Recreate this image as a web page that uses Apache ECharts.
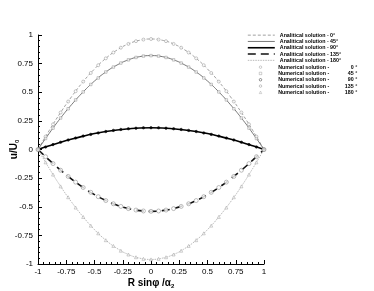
<!DOCTYPE html>
<html><head><meta charset="utf-8">
<script src="https://cdn.jsdelivr.net/npm/echarts@6/dist/echarts.min.js"></script>
<style>html,body{margin:0;padding:0;background:#fff}#c{width:374px;height:291px}</style>
</head><body><div id="c"></div>
<script>
const xTicks = ['-1','-0.75','-0.5','-0.25','0','0.25','0.5','0.75','1'];
const yTicks = ['-1','-0.75','-0.5','-0.25','0','0.25','0.5','0.75','1'];
const angles = ['0°','45°','90°','135°','180°'];
const numLabels = ['0 °','45 °','90 °','135 °','180 °'];

const xAna = [-1,-0.9,-0.8,-0.7,-0.6,-0.5,-0.4,-0.3,-0.2,-0.1,0,0.1,0.2,0.3,0.4,0.5,0.6,0.7,0.8,0.9,1];
const ana0   = [0,.167,.323,.465,.593,.703,.796,.869,.922,.954,.965,.954,.922,.869,.796,.703,.593,.465,.323,.167,0];
const ana45  = [0,.142,.275,.395,.503,.598,.677,.738,.783,.811,.820,.811,.783,.738,.677,.598,.503,.395,.275,.142,0];
const ana90  = [0,.033,.064,.092,.117,.139,.157,.171,.181,.188,.190,.188,.181,.171,.157,.139,.117,.092,.064,.033,0];
const ana135 = [0,-.093,-.181,-.260,-.332,-.394,-.446,-.486,-.516,-.534,-.540,-.534,-.516,-.486,-.446,-.394,-.332,-.260,-.181,-.093,0];
const ana180 = [0,-.166,-.322,-.463,-.589,-.700,-.792,-.864,-.917,-.949,-.960,-.949,-.917,-.864,-.792,-.700,-.589,-.463,-.322,-.166,0];

const xNum = [-1,-0.933,-0.867,-0.8,-0.733,-0.667,-0.6,-0.533,-0.467,-0.4,-0.333,-0.267,-0.2,-0.133,-0.067,0,0.067,0.133,0.2,0.267,0.333,0.4,0.467,0.533,0.6,0.667,0.733,0.8,0.867,0.933,1];
const num0   = [0,.113,.220,.323,.419,.509,.593,.668,.736,.796,.847,.889,.922,.946,.960,.965,.960,.946,.922,.889,.847,.796,.736,.668,.593,.509,.419,.323,.220,.113,0];
const num45  = [0,.096,.187,.275,.356,.433,.503,.568,.625,.677,.720,.755,.783,.804,.816,.820,.816,.804,.783,.755,.720,.677,.625,.568,.503,.433,.356,.275,.187,.096,0];
const num90  = [0,.022,.043,.064,.083,.100,.117,.132,.145,.157,.167,.175,.181,.186,.189,.190,.189,.186,.181,.175,.167,.157,.145,.132,.117,.100,.083,.064,.043,.022,0];
const num135 = [0,-.063,-.123,-.181,-.235,-.285,-.332,-.374,-.412,-.446,-.474,-.497,-.516,-.529,-.537,-.540,-.537,-.529,-.516,-.497,-.474,-.446,-.412,-.374,-.332,-.285,-.235,-.181,-.123,-.063,0];
const num180 = [0,-.112,-.219,-.322,-.417,-.507,-.589,-.665,-.732,-.792,-.842,-.884,-.917,-.941,-.955,-.960,-.955,-.941,-.917,-.884,-.842,-.792,-.732,-.665,-.589,-.507,-.417,-.322,-.219,-.112,0];

const anaData = [ana0, ana45, ana90, ana135, ana180];
const numData = [num0, num45, num90, num135, num180];
const zip = (xs, ys) => xs.map((x, i) => [x, ys[i]]);

const FONT = 'Liberation Sans';
const anaStyles = [
  {color:'#888', width:0.8, type:[3,2]},
  {color:'#555', width:0.8, type:'solid'},
  {color:'#000', width:1.6, type:'solid'},
  {color:'#111', width:1.6, type:[8,5]},
  {color:'#aaa', width:0.8, type:[1.5,1]}
];
const numStyles = [
  {symbol:'circle', size:3, color:'#fff', border:'#888'},
  {symbol:'rect', size:2.5, color:'#fff', border:'#888'},
  {symbol:'circle', size:2.5, color:'#000', border:'#000'},
  {symbol:'circle', size:4, color:'#fff', border:'#777'},
  {symbol:'triangle', size:3, color:'#fff', border:'#999'}
];

const anaNames = angles.map(a => 'Analitical solution - ' + a);
const numNames = numLabels.map(a => 'Numerical solution - ' + a);

const series = [];
anaData.forEach((d, i) => {
  series.push({
    name: anaNames[i], type: 'line', data: zip(xAna, d), smooth: true,
    symbol: 'none', showSymbol: false, lineStyle: anaStyles[i], itemStyle: {color: anaStyles[i].color},
    z: 2
  });
});
numData.forEach((d, i) => {
  const s = numStyles[i];
  series.push({
    name: numNames[i], type: 'scatter', data: zip(xNum, d),
    symbol: s.symbol, symbolSize: s.size,
    itemStyle: {color: s.color, borderColor: s.border, borderWidth: 0.6},
    z: 3
  });
});

const chart = echarts.init(document.getElementById('c'), null, {renderer: 'canvas'});
chart.setOption({
  animation: false,
  backgroundColor: '#fff',
  grid: {left: 38, right: 110, top: 35, bottom: 27, containLabel: false, outerBoundsMode: 'none'},
  legend: [
    {
      data: anaNames.map((n, i) => ({name: n, lineStyle: {width: anaStyles[i].width, color: anaStyles[i].color, type: anaStyles[i].type}})),
      orient: 'vertical', left: 247, top: 32,
      itemWidth: 27, itemHeight: 6.3, itemGap: 0, padding: 0,
      itemStyle: {opacity: 0},
      textStyle: {fontFamily: FONT, fontWeight: 'bold', fontSize: 5.3, color: '#000', lineHeight: 6.3}
    },
    {
      data: numNames.map((n, i) => ({name: n, itemStyle: {color: '#fff', borderColor: numStyles[i].border, borderWidth: 0.5}})),
      orient: 'vertical', left: 259, top: 64,
      itemWidth: 2.5, itemHeight: 2.5, itemGap: 0, padding: 0,
      formatter: function (n) {
        const i = numNames.indexOf(n);
        return '{n|Numerical solution -}{v|' + numLabels[i] + '}';
      },
      textStyle: {fontFamily: FONT, fontWeight: 'bold', fontSize: 5.3, color: '#000', lineHeight: 6.3,
        rich: {
          n: {fontFamily: FONT, fontWeight: 'bold', fontSize: 5.3, lineHeight: 6.3, width: 54, padding: [0,0,0,11.5]},
          v: {fontFamily: FONT, fontWeight: 'bold', fontSize: 5.3, lineHeight: 6.3, width: 25, align: 'right'}
        }
      }
    }
  ],
  xAxis: {
    type: 'value', min: -1, max: 1, interval: 0.25,
    name: '{a|R sinφ /α}{s|2}', nameLocation: 'middle', nameGap: 13, nameMoveOverlap: false,
    nameTextStyle: {rich: {
      a: {fontFamily: FONT, fontWeight: 'bold', fontSize: 10, color: '#000'},
      s: {fontFamily: FONT, fontWeight: 'bold', fontSize: 6, color: '#000', verticalAlign: 'bottom', padding: [6,0,0,0]}
    }},
    axisLine: {show: true, onZero: false, lineStyle: {color: '#000', width: 1}},
    axisTick: {show: true, inside: true, length: 4, lineStyle: {color: '#000'}},
    minorTick: {show: true, splitNumber: 5, length: 2, lineStyle: {color: '#000'}},
    splitLine: {show: false},
    axisLabel: {fontFamily: FONT, fontSize: 8, color: '#000', margin: 4,
      formatter: v => xTicks[Math.round((v + 1) / 0.25)]}
  },
  yAxis: {
    type: 'value', min: -1, max: 1, interval: 0.25,
    name: '{a|u/U}{s|0}', nameLocation: 'middle', nameGap: 18, nameRotate: 90, nameMoveOverlap: false,
    nameTextStyle: {rich: {
      a: {fontFamily: FONT, fontWeight: 'bold', fontSize: 10, color: '#000'},
      s: {fontFamily: FONT, fontWeight: 'bold', fontSize: 6, color: '#000', verticalAlign: 'bottom', padding: [6,0,0,0]}
    }},
    axisLine: {show: true, onZero: false, lineStyle: {color: '#000', width: 1}},
    axisTick: {show: true, inside: true, length: 4, lineStyle: {color: '#000'}},
    minorTick: {show: true, splitNumber: 5, length: 2, lineStyle: {color: '#000'}},
    splitLine: {show: false},
    axisLabel: {fontFamily: FONT, fontSize: 8, color: '#000', margin: 5,
      formatter: v => yTicks[Math.round((v + 1) / 0.25)]}
  },
  series: series
});
</script>
</body></html>
